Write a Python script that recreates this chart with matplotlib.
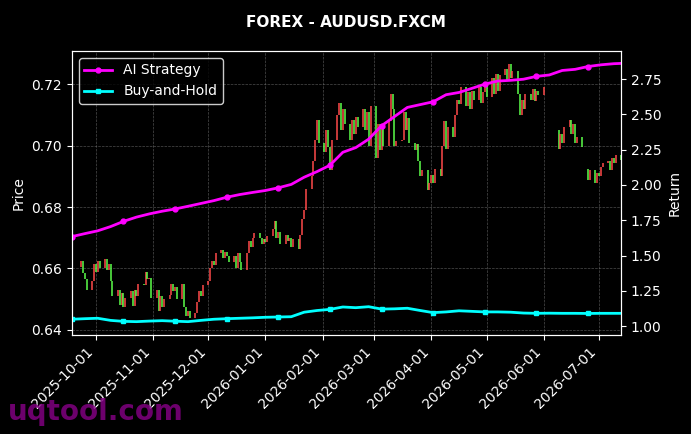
import numpy as np
import pandas as pd
import matplotlib
matplotlib.use("Agg")
import matplotlib.pyplot as plt
import matplotlib.dates as mdates

# daily closes, business days from 2025-09-22 (one row per week)
closes = [
    0.6605, 0.6625, 0.6585, 0.6565, 0.6530,   # Sep 22
    0.6560, 0.6615, 0.6590, 0.6625, 0.6600,   # Sep 29
    0.6630, 0.6595, 0.6615, 0.6560, 0.6510,   # Oct 6
    0.6530, 0.6480, 0.6520, 0.6475, 0.6505,   # Oct 13
    0.6525, 0.6478, 0.6530, 0.6510, 0.6550,   # Oct 20
    0.6545, 0.6590, 0.6565, 0.6570, 0.6505,   # Oct 27
    0.6530, 0.6460, 0.6510, 0.6475, 0.6500,   # Nov 3
    0.6515, 0.6550, 0.6525, 0.6540, 0.6500,   # Nov 10
    0.6550, 0.6475, 0.6445, 0.6460, 0.6440,   # Nov 17
    0.6455, 0.6490, 0.6525, 0.6510, 0.6545,   # Nov 24
    0.6560, 0.6600, 0.6625, 0.6610, 0.6650,   # Dec 1
    0.6660, 0.6635, 0.6655, 0.6640, 0.6620,   # Dec 8
    0.6640, 0.6600, 0.6650, 0.6620, 0.6595,   # Dec 15
    0.6650, 0.6690, 0.6670, 0.6700, 0.6715,   # Dec 22
    0.6700, 0.6680, 0.6695, 0.6685, 0.6705,   # Dec 29
    0.6730, 0.6755, 0.6700, 0.6720, 0.6680,   # Jan 5
    0.6710, 0.6690, 0.6700, 0.6670, 0.6695,   # Jan 12
    0.6665, 0.6710, 0.6760, 0.6790, 0.6860,   # Jan 19
    0.6900, 0.6950, 0.7020, 0.7085, 0.7010,   # Jan 26
    0.6980, 0.7050, 0.6995, 0.6920, 0.7020,   # Feb 2
    0.7100, 0.7140, 0.7050, 0.7120, 0.7070,   # Feb 9
    0.7020, 0.7085, 0.7040, 0.7095, 0.7060,   # Feb 16
    0.7120, 0.7050, 0.7110, 0.7000, 0.7130,   # Feb 23
    0.6960, 0.7070, 0.6985, 0.7060, 0.7000,   # Mar 2
    0.7080, 0.7170, 0.7120, 0.7000, 0.7015,   # Mar 9
    0.7020, 0.7110, 0.7050, 0.7090, 0.7010,   # Mar 16
    0.6985, 0.7005, 0.6950, 0.6900, 0.6920,   # Mar 23
    0.6855, 0.6880, 0.6905, 0.6880, 0.6925,   # Mar 30
    0.6900, 0.7000, 0.7080, 0.6990, 0.7060,   # Apr 6
    0.7030, 0.7100, 0.7150, 0.7135, 0.7190,   # Apr 13
    0.7130, 0.7175, 0.7120, 0.7180, 0.7150,   # Apr 20
    0.7190, 0.7140, 0.7175, 0.7195, 0.7160,   # Apr 27
    0.7220, 0.7170, 0.7235, 0.7180, 0.7230,   # May 4
    0.7250, 0.7215, 0.7265, 0.7220, 0.7245,   # May 11
    0.7170, 0.7100, 0.7150, 0.7120, 0.7170,   # May 18
    0.7150, 0.7185, 0.7145, 0.7180, 0.7165,   # May 25
    0.7190, np.nan, np.nan, np.nan, np.nan,   # Jun 1
    0.7050, 0.6990, 0.7040, 0.7010, 0.7060,   # Jun 8
    0.7085, 0.7040, 0.7070, 0.7010, 0.7030,   # Jun 15
    0.6995, np.nan, 0.6925, 0.6890, 0.6920,   # Jun 22
    0.6880, 0.6910, 0.6900, 0.6930, 0.6945,   # Jun 29
    0.6950, 0.6920, 0.6960, 0.6945, 0.6970,   # Jul 6
    0.6955,                                   # Jul 13
]

# weekly strategy curves, from 2025-09-18
ai_strategy = [
    1.634, 1.655, 1.675, 1.705, 1.742, 1.772, 1.795, 1.814, 1.830, 1.849,
    1.869, 1.889, 1.913, 1.932, 1.947, 1.961, 1.980, 2.004, 2.055, 2.095,
    2.140, 2.232, 2.265, 2.325, 2.420, 2.485, 2.550, 2.570, 2.590, 2.640,
    2.656, 2.685, 2.715, 2.737, 2.742, 2.750, 2.770, 2.780, 2.812, 2.820,
    2.840, 2.852, 2.860, 2.862,
]
buy_hold = [
    1.048, 1.052, 1.055, 1.040, 1.033, 1.031, 1.035, 1.038, 1.034, 1.031,
    1.040, 1.048, 1.052, 1.055, 1.058, 1.062, 1.064, 1.066, 1.098, 1.110,
    1.118, 1.135, 1.130, 1.137, 1.120, 1.122, 1.126, 1.110, 1.095, 1.100,
    1.108, 1.104, 1.100, 1.100, 1.098, 1.092, 1.090, 1.091, 1.090, 1.090,
    1.089, 1.090, 1.090, 1.090,
]

price_dates = pd.bdate_range("2025-09-22", periods=len(closes))
ret_dates = list(pd.date_range("2025-09-18", "2026-07-09", freq="7D")) + [pd.Timestamp("2026-07-13")]

close_s = pd.Series(closes, index=price_dates)
open_s = close_s.shift(1).fillna(close_s)
ok = close_s.notna() & open_s.notna()
up = close_s >= open_s

fig, ax = plt.subplots(figsize=(6.91, 4.34), dpi=100)
fig.patch.set_facecolor("black")
ax.set_facecolor("black")
fig.subplots_adjust(left=0.104, right=0.899, top=0.8825, bottom=0.228)

# red = up, green = down
cols = np.where(up[ok], "#ff4a4a", "#5cff4a")
ax.vlines(close_s.index[ok], np.minimum(open_s[ok], close_s[ok]),
          np.maximum(open_s[ok], close_s[ok]), colors=cols, linewidth=1.1)

ax.set_ylim(0.6383, 0.7309)
ax.set_yticks([0.64, 0.66, 0.68, 0.70, 0.72])
ax.set_ylabel("Price", color="white")
ax.grid(True, color="gray", linestyle="--", linewidth=0.5, alpha=0.6)

ax2 = ax.twinx()
ax2.plot(ret_dates, ai_strategy, color="magenta", linewidth=2, marker="o",
         markersize=3.5, markevery=4, label="AI Strategy")
ax2.plot(ret_dates, buy_hold, color="cyan", linewidth=2, marker="s",
         markersize=3.5, markevery=4, label="Buy-and-Hold")
ax2.set_ylim(0.936, 2.95)
ax2.set_yticks([1.00, 1.25, 1.50, 1.75, 2.00, 2.25, 2.50, 2.75])
ax2.yaxis.set_major_formatter(plt.FormatStrFormatter("%.2f"))
ax2.set_ylabel("Return", color="white")

ax.set_xlim(pd.Timestamp("2025-09-18"), pd.Timestamp("2026-07-13"))
ax.xaxis.set_major_locator(mdates.MonthLocator())
ax.xaxis.set_major_formatter(mdates.DateFormatter("%Y-%m-%d"))
for lbl in ax.get_xticklabels():
    lbl.set_rotation(45)
    lbl.set_ha("right")

for a in (ax, ax2):
    a.tick_params(colors="white")
    for sp in a.spines.values():
        sp.set_color("white")

leg = ax2.legend(loc="upper left", facecolor="black", edgecolor="white")
for t in leg.get_texts():
    t.set_color("white")

fig.suptitle("FOREX - AUDUSD.FXCM", color="white", fontweight="bold", fontsize=11, y=0.965)
fig.text(0.012, 0.032, "uqtool.com", color="purple", alpha=0.85,
         fontsize=20, fontweight="bold")

fig.savefig("out.png", facecolor=fig.get_facecolor())
